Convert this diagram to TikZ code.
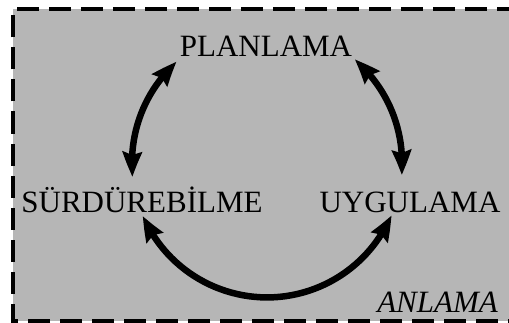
\documentclass[tikz,border=0pt]{standalone}
\usepackage{fontspec}
\setmainfont{Liberation Serif}
\usetikzlibrary{arrows.meta,bending}
\definecolor{bggray}{RGB}{182,182,182}
\tikzset{
  lbl/.style={inner sep=0pt, anchor=base, font=\fontsize{31}{36}\selectfont},
  arr/.style={line width=6.5pt, {Stealth[length=25pt,width=19pt,inset=3pt,bend]}-{Stealth[length=25pt,width=19pt,inset=3pt,bend]}},
  frame/.style={fill=bggray, draw=black, line width=4pt, dash pattern=on 22pt off 10pt}
}
\begin{document}
\begin{tikzpicture}[x=1pt,y=1pt]
\useasboundingbox (0,0) rectangle (509,322);
\clip (0,0) rectangle (509,322);
\draw[frame] (530,1.5) -- (13,1.5) -- (13,312.5) -- (530,312.5);
\node[lbl] (plan) at (266,265) {PLANLAMA};
\node[lbl] (surd) at (142,110) {SÜRDÜREBİLME};
\node[lbl] (uyg) at (410,110) {UYGULAMA};
\node[lbl, anchor=base east, font=\fontsize{31}{36}\selectfont\itshape] (anl) at (498,10) {ANLAMA};
\coordinate (c) at (267,159.6);
\coordinate (a1) at ([shift={(131.9:135)}]c);
\coordinate (a2) at ([shift={(49.6:135)}]c);
\coordinate (a3) at ([shift={(203.3:135)}]c);
\draw[arr] (a1) arc[start angle=131.9, end angle=186.2, radius=135];
\draw[arr] (a2) arc[start angle=49.6, end angle=-5.4, radius=135];
\draw[arr] (a3) arc[start angle=203.3, end angle=337, radius=135];
\end{tikzpicture}
\end{document}
